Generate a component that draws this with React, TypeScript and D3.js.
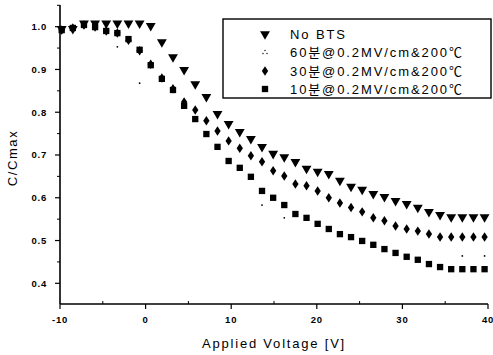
import React from "react";
import * as d3 from "d3";

// Gate voltage sweep [V]
const voltages = [
  -9.8, -8.5, -7.2, -5.9, -4.6, -3.3, -2.0, -0.7, 0.6, 1.9, 3.2, 4.5, 5.8, 7.1,
  8.4, 9.7, 11.0, 12.3, 13.6, 14.9, 16.2, 17.5, 18.8, 20.1, 21.4, 22.7, 24.0,
  25.3, 26.6, 27.9, 29.2, 30.5, 31.8, 33.1, 34.4, 35.7, 37.0, 38.3, 39.6,
];

// Normalised capacitance C/Cmax for each stress condition
const noBts = [
  0.995, 0.995, 1.008, 1.008, 1.008, 1.008, 1.008, 1.008, 1.002, 0.964, 0.929,
  0.899, 0.866, 0.836, 0.796, 0.773, 0.754, 0.738, 0.719, 0.703, 0.695, 0.684,
  0.668, 0.661, 0.656, 0.64, 0.626, 0.619, 0.609, 0.602, 0.593, 0.586, 0.577,
  0.567, 0.56, 0.555, 0.555, 0.555, 0.555,
];
const bts30 = [
  0.992, 0.997, 1.004, 0.999, 0.99, 0.985, 0.968, 0.944, 0.912, 0.88, 0.855,
  0.824, 0.805, 0.78, 0.756, 0.733, 0.716, 0.698, 0.684, 0.663, 0.651, 0.632,
  0.628, 0.616, 0.6, 0.588, 0.577, 0.567, 0.553, 0.546, 0.534, 0.527, 0.522,
  0.515, 0.508, 0.508, 0.508, 0.508, 0.508,
];
const bts10 = [
  0.992, 0.997, 1.004, 0.999, 0.99, 0.985, 0.971, 0.946, 0.91, 0.878, 0.852,
  0.815, 0.784, 0.749, 0.719, 0.686, 0.67, 0.649, 0.616, 0.6, 0.583, 0.562,
  0.553, 0.539, 0.527, 0.515, 0.508, 0.499, 0.49, 0.48, 0.471, 0.462, 0.455,
  0.445, 0.438, 0.433, 0.433, 0.433, 0.433,
];
// 60 min series: only the resolved points
const bts60V = [-3.3, -0.7, 13.6, 16.2, 37.0, 39.6];
const bts60 = [0.953, 0.868, 0.583, 0.553, 0.464, 0.464];

const xTicks = [-10, 0, 10, 20, 30, 40];
const yTicks = [0.4, 0.5, 0.6, 0.7, 0.8, 0.9, 1.0];
const legendLabels = [
  "No BTS",
  "60분@0.2MV/cm&200℃",
  "30분@0.2MV/cm&200℃",
  "10분@0.2MV/cm&200℃",
];

const W = 493;
const H = 355;
const left = 60;
const right = 488;
const top = 5;
const bottom = 304;

const x = d3.scaleLinear().domain([-10, 40]).range([left, right]);
const y = d3.scaleLinear().domain([0.3516, 1.0507]).range([bottom, top]);

const triPath = d3.symbol().type(d3.symbolTriangle).size(42)()!;
const diaPath = d3.symbol().type(d3.symbolDiamond).size(26)()!;
const sqPath = d3.symbol().type(d3.symbolSquare).size(40)()!;

const tickFont = "'Liberation Sans', Arial, sans-serif";

function Tri({ cx, cy }: { cx: number; cy: number }) {
  return <path d={triPath} transform={`translate(${cx},${cy}) rotate(180)`} fill="#000" />;
}
function Dia({ cx, cy }: { cx: number; cy: number }) {
  return <path d={diaPath} transform={`translate(${cx},${cy}) scale(1.15,1)`} fill="#000" />;
}
function Sq({ cx, cy }: { cx: number; cy: number }) {
  return <path d={sqPath} transform={`translate(${cx},${cy})`} fill="#000" />;
}
function Dots({ cx, cy }: { cx: number; cy: number }) {
  return (
    <g fill="#000">
      <circle cx={cx} cy={cy - 1.5} r={0.7} />
      <circle cx={cx - 2} cy={cy + 1.5} r={0.7} />
      <circle cx={cx + 2} cy={cy + 1.5} r={0.7} />
    </g>
  );
}

export default function App() {
  const xMinor = d3.range(-5, 40, 10);
  const yMinor = d3
    .range(0.35, 1.06, 0.1)
    .map((v) => +v.toFixed(2))
    .filter((v) => y(v) >= top && y(v) <= bottom);
  const legendX = 265;
  const legendY = [34, 52, 71, 89];

  return (
    <svg width={W} height={H} style={{ position: "absolute", left: 0, top: 0, background: "#fff" }}>
      <rect x={0} y={0} width={W} height={H} fill="#fff" />

      {/* axes */}
      <line x1={left} x2={left} y1={top} y2={bottom} stroke="#000" strokeWidth={1.6} />
      <line x1={left} x2={right} y1={bottom} y2={bottom} stroke="#000" strokeWidth={1.6} />

      {yTicks.map((t) => (
        <g key={`yt${t}`}>
          <line x1={left - 5} x2={left} y1={y(t)} y2={y(t)} stroke="#000" strokeWidth={1.2} />
          <text
            x={47}
            y={y(t)}
            dy="0.35em"
            textAnchor="end"
            fontFamily={tickFont}
            fontWeight="bold"
            fontSize={9.5}
            letterSpacing={0.8}
          >
            {t.toFixed(1)}
          </text>
        </g>
      ))}
      {yMinor.map((t) => (
        <line key={`ym${t}`} x1={left - 3} x2={left} y1={y(t)} y2={y(t)} stroke="#000" strokeWidth={1} />
      ))}
      {xTicks.map((t) => (
        <g key={`xt${t}`}>
          <line x1={x(t)} x2={x(t)} y1={bottom} y2={bottom + 5} stroke="#000" strokeWidth={1.2} />
          <text
            x={x(t)}
            y={320}
            dy="0.35em"
            textAnchor="middle"
            fontFamily={tickFont}
            fontWeight="bold"
            fontSize={9.5}
            letterSpacing={0.8}
          >
            {t}
          </text>
        </g>
      ))}
      {xMinor.map((t) => (
        <line key={`xm${t}`} x1={x(t)} x2={x(t)} y1={bottom} y2={bottom - 3} stroke="#000" strokeWidth={1} />
      ))}

      <text
        x={274}
        y={343}
        dy="0.35em"
        textAnchor="middle"
        fontFamily={tickFont}
        fontSize={13}
        letterSpacing={1.8}
      >
        Applied Voltage [V]
      </text>
      <text
        transform={`translate(12,158) rotate(-90)`}
        dy="0.35em"
        textAnchor="middle"
        fontFamily={tickFont}
        fontSize={13}
        letterSpacing={1.6}
      >
        C/Cmax
      </text>

      {/* data */}
      {voltages.map((v, i) => (
        <Sq key={`s${i}`} cx={x(v)} cy={y(bts10[i])} />
      ))}
      {voltages.map((v, i) => (
        <Dia key={`d${i}`} cx={x(v)} cy={y(bts30[i])} />
      ))}
      {bts60V.map((v, i) => (
        <circle key={`p${i}`} cx={x(v)} cy={y(bts60[i])} r={0.9} fill="#000" />
      ))}
      {voltages.map((v, i) => (
        <Tri key={`t${i}`} cx={x(v)} cy={y(noBts[i])} />
      ))}

      {/* legend */}
      <rect x={223} y={19} width={268} height={79} fill="#fff" stroke="#000" strokeWidth={1.4} />
      <Tri cx={legendX} cy={legendY[0]} />
      <Dots cx={legendX} cy={legendY[1]} />
      <Dia cx={legendX} cy={legendY[2]} />
      <Sq cx={legendX} cy={legendY[3]} />
      {legendLabels.map((s, i) => (
        <text
          key={s}
          x={290}
          y={legendY[i]}
          dy="0.35em"
          fontFamily={"'Liberation Sans', Arial, 'Noto Sans CJK KR', sans-serif"}
          fontSize={13}
          letterSpacing={1.9}
        >
          {s}
        </text>
      ))}
    </svg>
  );
}
